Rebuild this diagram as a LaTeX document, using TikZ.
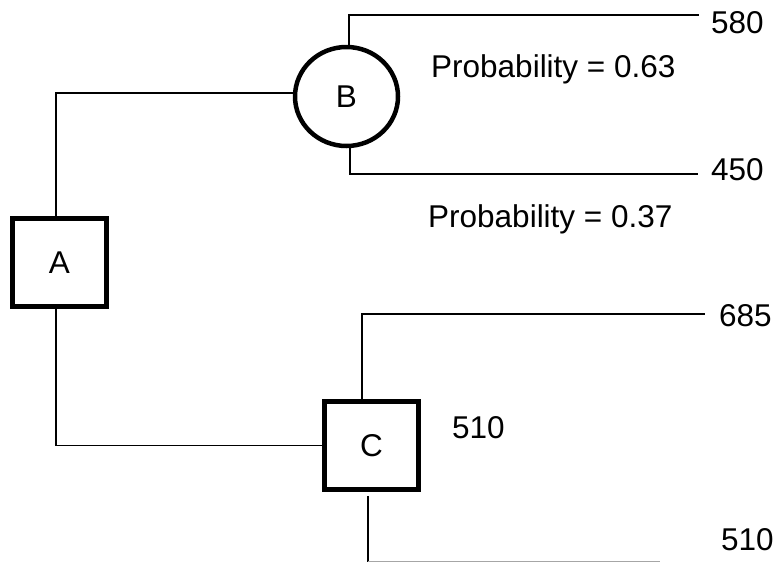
\documentclass[tikz,border=0pt]{standalone}
\usepackage{fontspec}
\setmainfont{Liberation Sans}
\usetikzlibrary{shapes.geometric}
\begin{document}
\begin{tikzpicture}[x=1pt,y=-1pt,
  font=\fontsize{31.5}{37}\selectfont,
  decision/.style={draw,line width=4.5pt,rectangle,minimum width=94pt,minimum height=88pt,inner sep=0pt},
  chance/.style={draw,line width=4.5pt,ellipse,minimum width=103pt,minimum height=99pt,inner sep=0pt},
  branch/.style={line width=1.4pt},
  payoff/.style={anchor=base west,inner sep=0pt},
  prob/.style={anchor=base west,inner sep=0pt}]
\useasboundingbox (0,0) rectangle (776,563);

% decision and chance nodes
\node[decision] (A) at (59.5,262.5) {A};
\node[chance]   (B) at (346.5,96.5) {B};
\node[decision] (C) at (371.5,445.5) {C};

% branch end points
\coordinate (e580) at (699,15);
\coordinate (e450) at (698,174);
\coordinate (e685) at (705,314);
\coordinate (e510) at (660,561.5);

% branches
\draw[branch] ([xshift=-3.5pt]A.north) |- ([yshift=3.5pt]B.west);
\draw[branch] ([xshift=-3.5pt]A.south) |- (C.west);
\draw[branch] ([xshift=2.5pt]B.north) |- (e580);
\draw[branch] ([xshift=3.5pt]B.south) |- (e450);
\draw[branch] ([xshift=-9.5pt]C.north) |- (e685);
\draw[branch] ([xshift=-3.5pt,yshift=-4pt]C.south) -- ([xshift=-3.5pt]C.south |- e510);
\draw[branch,gray!70] ([xshift=-3.5pt]C.south |- e510) -- (e510);

% payoffs
\node[payoff] (p580) at (711,33) {580};
\node[payoff] (p450) at (711,180) {450};
\node[payoff] (p685) at (719,326.5) {685};
\node[payoff] (pC)   at (452,438) {510};
\node[payoff] (p510) at (721,550) {510};

% probabilities
\node[prob] (q1) at (431,77) {Probability = 0.63};
\node[prob] (q2) at (428,227) {Probability = 0.37};
\end{tikzpicture}
\end{document}
